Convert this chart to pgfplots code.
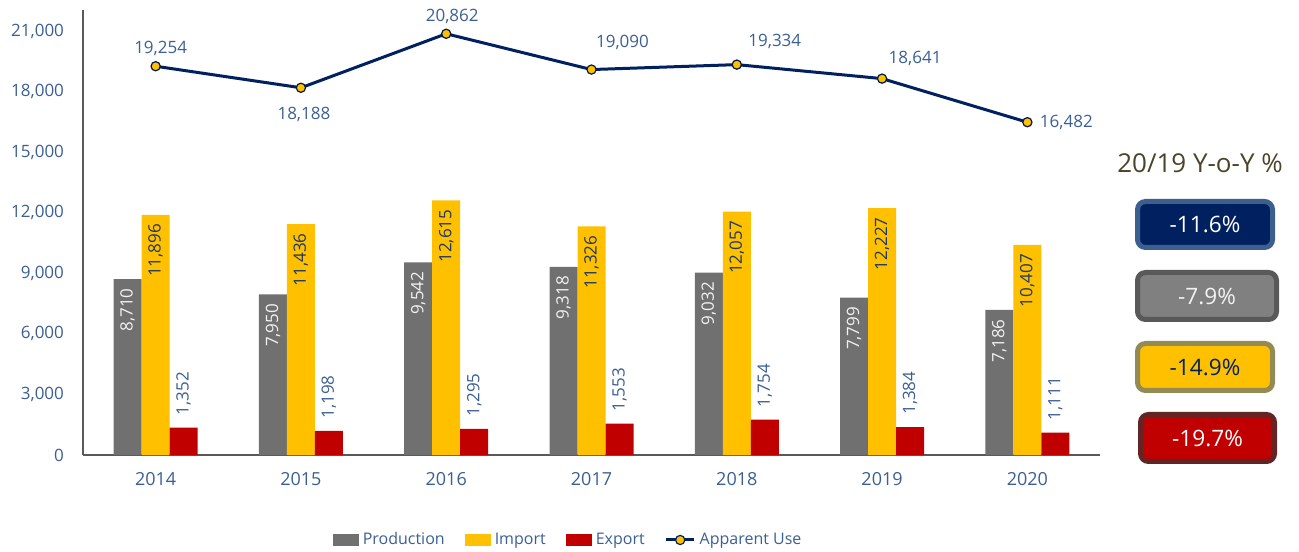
\documentclass[border=0pt]{standalone}
\usepackage{fontspec}
\setmainfont{Open Sans}
\usepackage{pgfplots}
\usepackage{pgfplotstable}
\pgfplotsset{compat=1.18}
\definecolor{cprod}{HTML}{707070}
\definecolor{cimp}{HTML}{FFC000}
\definecolor{cexp}{HTML}{C00000}
\definecolor{cnavy}{HTML}{002060}
\definecolor{lblue}{HTML}{3B5F93}
\definecolor{ydark}{HTML}{1F3864}
\definecolor{ctitle}{HTML}{4A452A}
\definecolor{colive}{HTML}{948A54}
\definecolor{cdred}{HTML}{632523}
\definecolor{cbord}{HTML}{3D5F8E}
\pgfkeys{/pgf/number format/.cd, fixed, precision=0, 1000 sep={,}, assume math mode=true}

\pgfplotstableread{
x prod imp exp
0 8710 11896 1352
1 7950 11436 1198
2 9542 12615 1295
3 9318 11326 1553
4 9032 12057 1754
5 7799 12227 1384
6 7186 10407 1111
}\bardata

\pgfplotstableread{
x y dx dy
0 19254 2.5 9
1 18188 1.5 -13.5
2 20862 3 8.5
3 19090 15.5 13.5
4 19334 19 11.5
5 18641 16.5 10
6 16482 19.5 0
}\linedata

\begin{document}
\begin{tikzpicture}
\useasboundingbox (0,0) rectangle (649.5pt,275.5pt);
\begin{axis}[
  at={(41.5pt,48pt)}, anchor=south west,
  scale only axis, width=508.5pt, height=222.5pt,
  xmin=-0.5, xmax=6.5, ymin=0, ymax=22040,
  axis x line*=bottom, axis y line*=left,
  axis line style={-, draw=black!65, line width=0.8pt},
  xtick={0,...,6}, xticklabels={2014,2015,2016,2017,2018,2019,2020},
  ytick={0,3000,...,21000},
  scaled y ticks=false,
  major tick length=0pt,
  tick style={draw=none},
  xticklabel style={font=\fontsize{9}{11}\selectfont, text=lblue, yshift=-5pt},
  yticklabel style={font=\fontsize{8.5}{10}\selectfont, text=lblue, xshift=-6pt},
  clip=false,
  legend style={at={(0.478,-0.191)}, anchor=center, draw=none, fill=none,
    legend columns=4, font=\fontsize{8}{10}\selectfont, text=lblue,
    /tikz/every even column/.append style={column sep=8pt},
    legend cell align=left},
]
\addplot[ybar, bar width=14pt, bar shift=0pt, fill=cprod, draw=none,
  nodes near coords,
  every node near coord/.style={rotate=90, anchor=east, inner xsep=4.5pt, inner ysep=0pt, text=black!5, font=\fontsize{8.5}{10}\selectfont},
  legend image code/.code={\fill[cprod] (0pt,-3pt) rectangle (13pt,3pt);}]
  table[x expr=\thisrow{x}-0.1927,y=prod]{\bardata};
\addlegendentry{Production}
\addplot[ybar, bar width=14pt, bar shift=0pt, fill=cimp, draw=none,
  nodes near coords,
  every node near coord/.style={rotate=90, anchor=east, inner xsep=4.5pt, inner ysep=0pt, text=ydark, font=\fontsize{8.5}{10}\selectfont},
  legend image code/.code={\fill[cimp] (0pt,-3pt) rectangle (13pt,3pt);}]
  table[x=x,y=imp]{\bardata};
\addlegendentry{Import}
\addplot[ybar, bar width=14pt, bar shift=0pt, fill=cexp, draw=none,
  nodes near coords,
  every node near coord/.style={rotate=90, anchor=west, inner xsep=6pt, inner ysep=0pt, text=lblue, font=\fontsize{8.5}{10}\selectfont},
  legend image code/.code={\fill[cexp] (0pt,-3pt) rectangle (13pt,3pt);}]
  table[x expr=\thisrow{x}+0.1927,y=exp]{\bardata};
\addlegendentry{Export}
\addplot[color=cnavy, line width=1.5pt, mark=*, mark size=2.3pt,
  mark options={fill=cimp, draw=cnavy!70!black, line width=0.6pt},
  nodes near coords,
  visualization depends on={\thisrow{dx} \as \dx},
  visualization depends on={\thisrow{dy} \as \dy},
  every node near coord/.append style={anchor=center, xshift=\dx pt, yshift=\dy pt, text=lblue, font=\fontsize{8.5}{10}\selectfont},
  legend image code/.code={\draw[cnavy, line width=1.5pt] (0pt,0pt) -- (14pt,0pt);
     \draw[fill=cimp, draw=cnavy, line width=0.6pt] (7pt,0pt) circle (2.3pt);}]
  table[x=x,y=y]{\linedata};
\addlegendentry{Apparent Use}
\end{axis}
\node[text=ctitle, font=\fontsize{13}{15}\selectfont] at (600pt,194pt) {20/19 Y-o-Y \%};
\node[draw=cbord, fill=cnavy, line width=2.5pt, rounded corners=4pt, minimum width=67.5pt, minimum height=23pt, text=white, font=\fontsize{11.3}{13}\selectfont] at (602.5pt,163.25pt) {-11.6\%};
\node[draw=black!65, fill=black!50, line width=2.5pt, rounded corners=4pt, minimum width=69.5pt, minimum height=23.5pt, text=black!5, font=\fontsize{11.3}{13}\selectfont] at (603.5pt,127.5pt) {-7.9\%};
\node[draw=colive, fill=cimp, line width=2.5pt, rounded corners=4pt, minimum width=67.5pt, minimum height=23.5pt, text=cnavy, font=\fontsize{11.3}{13}\selectfont] at (602.5pt,92pt) {-14.9\%};
\node[draw=cdred, fill=cexp, line width=2.5pt, rounded corners=4pt, minimum width=67pt, minimum height=23.5pt, text=white, font=\fontsize{11.3}{13}\selectfont] at (603.75pt,56.5pt) {-19.7\%};
\end{tikzpicture}
\end{document}
